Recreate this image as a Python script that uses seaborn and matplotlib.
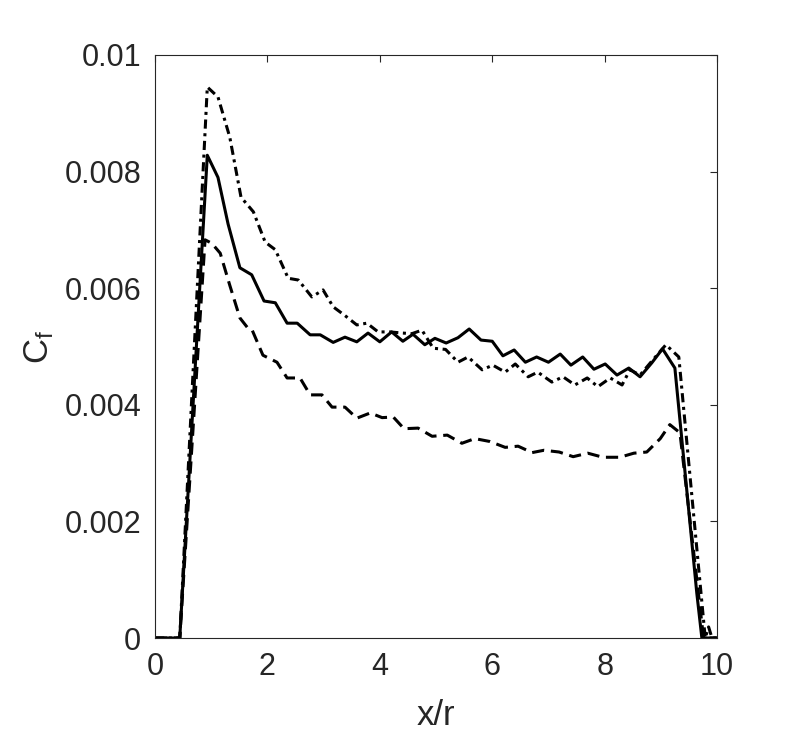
import numpy as np
import pandas as pd
import seaborn as sns
import matplotlib.pyplot as plt
from matplotlib.ticker import FuncFormatter

# Skin friction coefficient along x/r (values in 1e-3)
x_solid = [0.0, 0.44, 0.93, 1.12, 1.30, 1.51, 1.72, 1.94, 2.14, 2.35, 2.53, 2.76, 2.94,
           3.17, 3.38, 3.59, 3.79, 4.00, 4.21, 4.41, 4.59, 4.80, 4.98, 5.18, 5.39,
           5.59, 5.80, 6.00, 6.19, 6.39, 6.59, 6.79, 7.00, 7.21, 7.40, 7.61, 7.81,
           8.01, 8.22, 8.43, 8.63, 8.84, 9.03, 9.25, 9.45, 9.64, 9.73, 10.0]
cf_solid = [0, 0, 8.28, 7.90, 7.10, 6.35, 6.23, 5.78, 5.75, 5.40, 5.40, 5.20, 5.20,
            5.07, 5.16, 5.08, 5.23, 5.08, 5.25, 5.09, 5.21, 5.03, 5.14, 5.06, 5.15,
            5.30, 5.11, 5.09, 4.84, 4.94, 4.73, 4.82, 4.73, 4.87, 4.68, 4.82, 4.61,
            4.70, 4.51, 4.63, 4.48, 4.72, 4.96, 4.63, 2.65, 0.77, 0.0, 0.0]

x_dashed = [0.0, 0.44, 0.89, 1.01, 1.16, 1.33, 1.51, 1.64, 1.72, 1.92, 2.17, 2.35, 2.58,
            2.76, 2.97, 3.15, 3.38, 3.59, 3.83, 4.04, 4.24, 4.43, 4.68, 4.93, 5.20,
            5.46, 5.69, 5.96, 6.23, 6.46, 6.71, 6.92, 7.19, 7.44, 7.70, 7.97, 8.27,
            8.52, 8.75, 8.99, 9.16, 9.34, 9.76, 10.0]
cf_dashed = [0, 0, 6.83, 6.77, 6.60, 6.05, 5.49, 5.33, 5.30, 4.85, 4.73, 4.46, 4.46,
             4.17, 4.17, 3.96, 3.96, 3.77, 3.86, 3.78, 3.79, 3.59, 3.60, 3.46, 3.48,
             3.34, 3.42, 3.37, 3.27, 3.29, 3.18, 3.22, 3.19, 3.11, 3.17, 3.10, 3.10,
             3.17, 3.19, 3.42, 3.66, 3.52, 0.0, 0.0]

x_dashdot = [0.0, 0.44, 0.93, 1.12, 1.33, 1.53, 1.75, 1.96, 2.14, 2.37, 2.55, 2.79, 2.99,
             3.17, 3.38, 3.59, 3.77, 3.97, 4.18, 4.41, 4.57, 4.75, 4.95, 5.17, 5.39,
             5.57, 5.82, 6.01, 6.23, 6.41, 6.64, 6.81, 7.06, 7.26, 7.47, 7.69, 7.88,
             8.10, 8.31, 8.45, 8.63, 8.84, 9.09, 9.32, 9.79, 9.85, 9.91, 10.0]
cf_dashdot = [0, 0, 9.45, 9.28, 8.59, 7.56, 7.31, 6.79, 6.66, 6.17, 6.14, 5.85, 5.97,
              5.68, 5.53, 5.37, 5.40, 5.25, 5.25, 5.23, 5.22, 5.28, 4.97, 4.95, 4.73,
              4.82, 4.60, 4.68, 4.56, 4.70, 4.48, 4.56, 4.39, 4.48, 4.34, 4.46, 4.31,
              4.46, 4.34, 4.60, 4.51, 4.75, 5.03, 4.82, 0.0, 0.19, 0.0, 0.0]

df = pd.concat([
    pd.DataFrame({'x': x_solid, 'cf': np.array(cf_solid) * 1e-3, 'case': 'solid'}),
    pd.DataFrame({'x': x_dashed, 'cf': np.array(cf_dashed) * 1e-3, 'case': 'dashed'}),
    pd.DataFrame({'x': x_dashdot, 'cf': np.array(cf_dashdot) * 1e-3, 'case': 'dashdot'}),
])

sns.set_style('white')
plt.rcParams['font.family'] = ['Liberation Sans', 'DejaVu Sans']
plt.rcParams['mathtext.default'] = 'regular'

fig = plt.figure(figsize=(7.93, 7.33), dpi=100)
ax = fig.add_axes([0.1955, 0.1296, 0.7087, 0.7954])

styles = {'solid': '-', 'dashed': (0, (4, 2.2)), 'dashdot': (0, (3, 1.5, 1, 1.5))}
for case, ls in styles.items():
    sub = df[df['case'] == case]
    sns.lineplot(data=sub, x='x', y='cf', ax=ax, color='black', linewidth=2.2,
                 sort=False, estimator=None, linestyle=ls)

ax.set_xlim(0, 10)
ax.set_ylim(0, 0.01)
ax.set_xticks([0, 2, 4, 6, 8, 10])
ax.set_yticks([0, 0.002, 0.004, 0.006, 0.008, 0.01])
ax.yaxis.set_major_formatter(FuncFormatter(lambda v, p: '%g' % v))

ax.tick_params(axis='both', which='both', direction='in', length=5, width=0.8,
               top=True, right=True, labelsize=22, labelcolor='#262626', color='#262626')
ax.tick_params(axis='y', pad=10)
ax.tick_params(axis='x', pad=10)
for side in ax.spines.values():
    side.set_visible(True)
    side.set_color('#262626')
    side.set_linewidth(0.8)

ax.set_xlabel('x/r', fontsize=25, color='#262626', labelpad=12)
ax.set_ylabel('C$_f$', fontsize=25, color='#262626', labelpad=6)

fig.savefig('out.png', dpi=100)
